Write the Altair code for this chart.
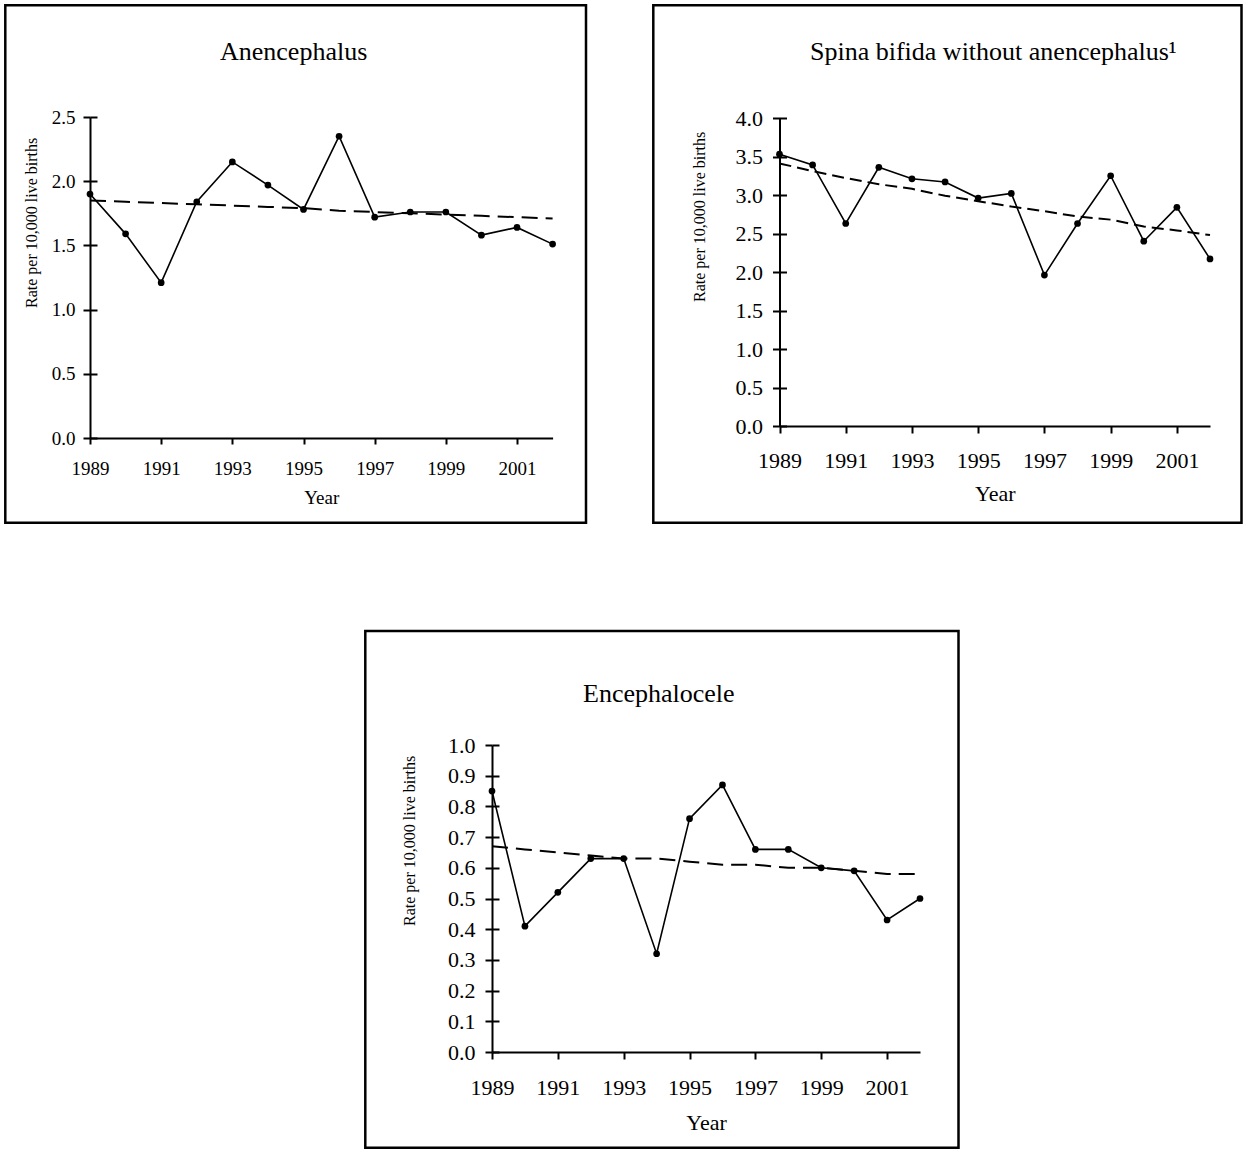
import altair as alt
import pandas as pd

# Neural tube defect rates, per 10,000 live births
years = [1989, 1990, 1991, 1992, 1993, 1994, 1995, 1996, 1997, 1998, 1999, 2000, 2001, 2002]

anencephalus_rate = [1.90, 1.59, 1.21, 1.84, 2.15, 1.97, 1.78, 2.35, 1.72, 1.76, 1.76, 1.58, 1.64, 1.51]
anencephalus_trend = [1.85, 1.84, 1.83, 1.82, 1.81, 1.80, 1.79, 1.77, 1.76, 1.75, 1.74, 1.73, 1.72, 1.71]

spina_bifida_rate = [3.53, 3.39, 2.63, 3.36, 3.21, 3.17, 2.96, 3.02, 1.96, 2.63, 3.25, 2.40, 2.84, 2.17]
spina_bifida_trend = [3.41, 3.31, 3.22, 3.14, 3.08, 2.99, 2.92, 2.85, 2.79, 2.72, 2.68, 2.59, 2.54, 2.48]

encephalocele_rate = [0.85, 0.41, 0.52, 0.63, 0.63, 0.32, 0.76, 0.87, 0.66, 0.66, 0.60, 0.59, 0.43, 0.50]
encephalocele_trend = [0.67, 0.66, 0.65, 0.64, 0.63, 0.63, 0.62, 0.61, 0.61, 0.60, 0.60, 0.59, 0.58, 0.58]

x_tick_years = [1989, 1991, 1993, 1995, 1997, 1999, 2001]
anencephalus_ticks = [0.0, 0.5, 1.0, 1.5, 2.0, 2.5]
spina_bifida_ticks = [0.0, 0.5, 1.0, 1.5, 2.0, 2.5, 3.0, 3.5, 4.0]
encephalocele_ticks = [0.0, 0.1, 0.2, 0.3, 0.4, 0.5, 0.6, 0.7, 0.8, 0.9, 1.0]

panel_titles = ["Anencephalus", "Spina bifida without anencephalus\u00b9", "Encephalocele"]
y_title = "Rate per 10,000 live births"
x_title = "Year"

W, H = 1249, 1149
FONT = "Liberation Serif"


def panel(rate, trend, y_ticks, y_max, x_px, y_px, label_size, x_tick_len,
          x_label_pad, y_label_pad, year_pad, dash):
    """Layers of one small multiple; every layer gets its own (identical) scales."""
    df = pd.DataFrame({"Year": years, "Rate": rate, "Trend": trend})
    xs = alt.Scale(domain=[1989, 2002], range=x_px, nice=False, zero=False)
    ys = alt.Scale(domain=[0, y_max], range=y_px, nice=False, zero=False)
    base = alt.Chart(df)

    common = dict(grid=False, domainColor="black", domainWidth=2, tickColor="black",
                  tickWidth=2, labelFont=FONT, labelFontSize=label_size,
                  labelColor="black", labelFlush=False, labelOverlap=False)

    x_axis = alt.Axis(orient="bottom", offset=y_px[0] - H, values=x_tick_years,
                      format="d", title=x_title, tickSize=x_tick_len,
                      labelPadding=x_label_pad, titleFont=FONT,
                      titleFontSize=label_size, titleFontWeight="normal",
                      titleColor="black", titlePadding=year_pad, **common)
    y_axis = alt.Axis(orient="left", offset=-x_px[0], values=y_ticks, format=".1f",
                      title=None, tickSize=7, labelPadding=y_label_pad, **common)
    # inward half of the crossing y ticks
    y_axis_in = alt.Axis(orient="right", offset=x_px[0] - W, values=y_ticks,
                         title=None, labels=False, domain=False, tickSize=7,
                         tickWidth=2, tickColor="black", grid=False)

    axes = base.mark_point(opacity=0).encode(
        x=alt.X("Year:Q", scale=xs, axis=x_axis),
        y=alt.Y("Rate:Q", scale=ys, axis=y_axis),
    )
    inner_ticks = base.mark_point(opacity=0).encode(
        x=alt.X("Year:Q", scale=xs, axis=None),
        y=alt.Y("Rate:Q", scale=ys, axis=y_axis_in),
    )
    trend_line = base.mark_line(color="black", strokeWidth=2, strokeDash=dash).encode(
        x=alt.X("Year:Q", scale=xs, axis=None),
        y=alt.Y("Trend:Q", scale=ys, axis=None),
    )
    rate_line = base.mark_line(color="black", strokeWidth=1.6).encode(
        x=alt.X("Year:Q", scale=xs, axis=None),
        y=alt.Y("Rate:Q", scale=ys, axis=None),
    )
    rate_pts = base.mark_circle(color="black", size=45, opacity=1).encode(
        x=alt.X("Year:Q", scale=xs, axis=None),
        y=alt.Y("Rate:Q", scale=ys, axis=None),
    )
    return [axes, inner_ticks, trend_line, rate_line, rate_pts]


one_row = pd.DataFrame({"k": [0]})


def frame(x0, x1, y0, y1):
    return alt.Chart(one_row).mark_rect(fill="transparent", stroke="black", strokeWidth=2.5).encode(
        x=alt.value(x0), x2=alt.value(x1), y=alt.value(y0), y2=alt.value(y1)
    )


def heading(text, x, y):
    return alt.Chart(one_row).mark_text(text=text, font=FONT, fontSize=26, align="left",
                                        baseline="alphabetic", color="black").encode(
        x=alt.value(x), y=alt.value(y)
    )


def side_title(x, y):
    return alt.Chart(one_row).mark_text(text=y_title, font=FONT, fontSize=16, angle=270,
                                        align="left", baseline="middle", color="black").encode(
        x=alt.value(x), y=alt.value(y)
    )


p1 = panel(anencephalus_rate, anencephalus_trend, anencephalus_ticks, 2.5,
           [90, 552.6], [438, 117], 19, 6, 15, 8, 10, [16, 8])
p2 = panel(spina_bifida_rate, spina_bifida_trend, spina_bifida_ticks, 4.0,
           [779.5, 1210], [426, 118], 22, 7, 17, 10, 12, [12, 6])
p3 = panel(encephalocele_rate, encephalocele_trend, encephalocele_ticks, 1.0,
           [492, 920], [1052, 745], 22, 7, 18, 10, 14, [16, 8])

chart = alt.layer(
    frame(5.3, 586, 5.3, 522.7),
    frame(653.3, 1241.5, 5.3, 522.7),
    frame(365.3, 958.5, 631, 1147.7),
    *p1, *p2, *p3,
    heading(panel_titles[0], 220, 60),
    heading(panel_titles[1], 810, 60),
    heading(panel_titles[2], 583, 702),
    side_title(32, 308),
    side_title(700, 302),
    side_title(410, 926),
).resolve_scale(
    x="independent", y="independent"
).properties(
    width=W, height=H, padding=0, autosize=alt.AutoSizeParams(type="none"),
    background="white",
).configure_view(stroke=None)

chart.save("out.html", embed_options={"renderer": "svg", "actions": False})
